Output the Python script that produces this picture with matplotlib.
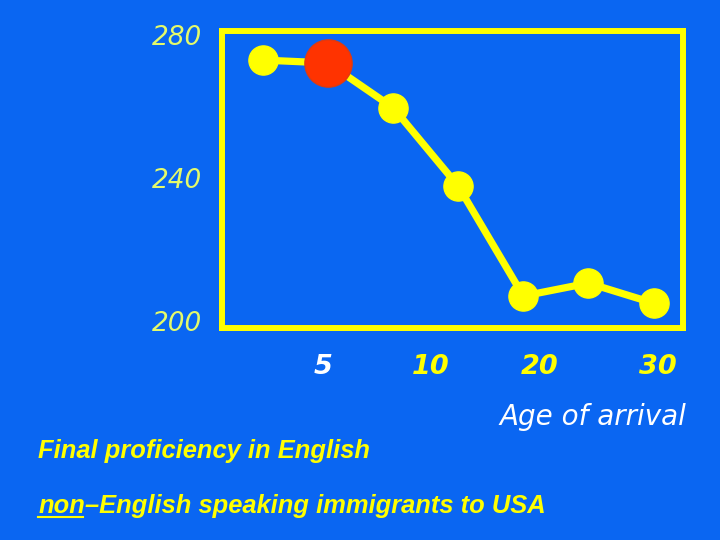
import matplotlib.pyplot as plt

# values
groups = [0, 1, 2, 3, 4, 5, 6]
scores = [272.9, 272.1, 259.6, 237.7, 207.0, 210.6, 205.0]
highlight = 1
age_labels = ['5', '10', '20', '30']
age_pos = [0.92, 2.58, 4.25, 6.07]
y_ticks = [200, 240, 280]

bg = '#0a66f2'
yellow = '#ffff00'

fig = plt.figure(figsize=(7.2, 5.4), dpi=100, facecolor=bg)
ax = fig.add_axes([0.309, 0.3935, 0.6395, 0.5496], facecolor=bg)

ax.plot(groups, scores, color=yellow, lw=5.2, marker='o', ms=21,
        mfc=yellow, mec=yellow, zorder=3)
ax.plot(groups[highlight], scores[highlight], 'o', ms=34, mfc='#ff3300',
        mec='#e03a10', mew=1, zorder=4)

ax.set_xlim(-0.62, 6.45)
ax.set_ylim(198.2, 281.1)
for s in ax.spines.values():
    s.set_color(yellow)
    s.set_linewidth(4.3)

ax.set_yticks(y_ticks)
ax.set_yticklabels([str(v) for v in y_ticks], fontsize=19, style='italic',
                   color='#e4fa6a', family='DejaVu Sans')
ax.set_xticks(age_pos)
ax.set_xticklabels(age_labels, fontsize=19.5, style='italic', weight='bold',
                   family='DejaVu Sans')
for i, t in enumerate(ax.get_xticklabels()):
    t.set_color('white' if i == 0 else yellow)
ax.tick_params(axis='y', length=0, pad=15)
ax.tick_params(axis='x', length=0, pad=19)

fig.text(0.694, 0.228, 'Age of arrival', color='white', style='italic',
         fontsize=20, ha='left', va='center', family='DejaVu Sans')
fig.text(0.053, 0.165, 'Final proficiency in English', color=yellow,
         style='italic', weight='bold', fontsize=18.4, ha='left', va='center',
         family='Liberation Sans')
t1 = fig.text(0.053, 0.063, 'non', color=yellow, style='italic', weight='bold',
              fontsize=18.4, ha='left', va='center', family='Liberation Sans')
fig.canvas.draw()
bb = t1.get_window_extent().transformed(fig.transFigure.inverted())
fig.text(bb.x1, 0.063, '\u2013English speaking immigrants to USA', color=yellow,
         style='italic', weight='bold', fontsize=18.4, ha='left', va='center',
         family='Liberation Sans')
fig.add_artist(plt.Line2D([bb.x0, bb.x1 - 0.003], [bb.y0 + 0.002, bb.y0 + 0.002],
                          color=yellow, lw=1.5, transform=fig.transFigure))

fig.savefig('out.png', dpi=100, facecolor=bg)
